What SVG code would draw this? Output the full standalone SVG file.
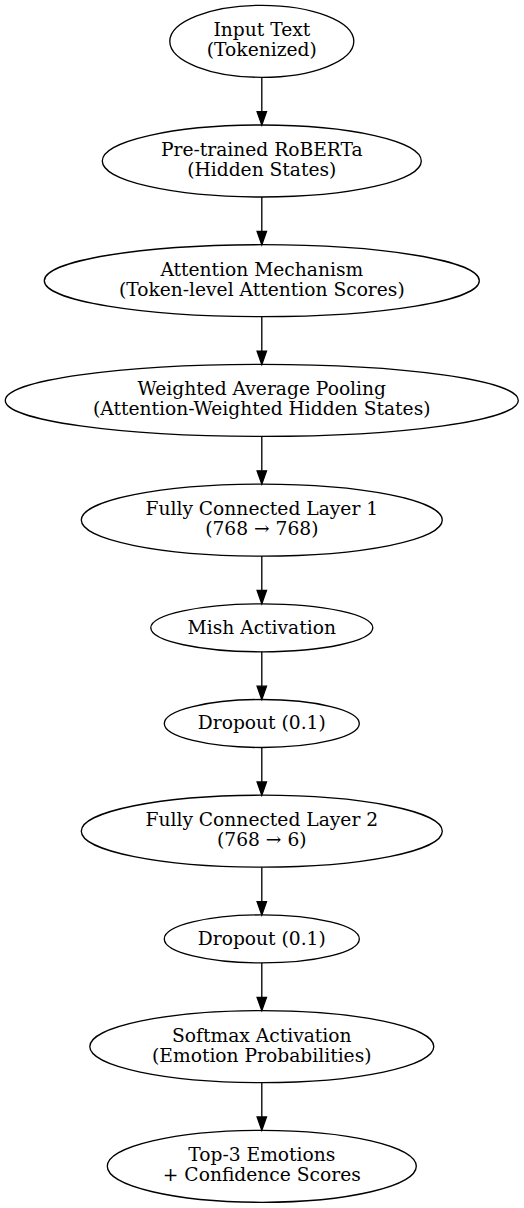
<svg xmlns="http://www.w3.org/2000/svg" width="524" height="1208" viewBox="0 0 524 1208">
<style>
.n ellipse{fill:none;stroke:#000;stroke-width:1.33}
.n text{font-family:"DejaVu Serif",serif;font-size:18.67px;text-anchor:middle;fill:#000}
.e line{stroke:#000;stroke-width:1.33}
.e polygon{fill:#000;stroke:#000;stroke-width:1.33}
</style>
<rect width="524" height="1208" fill="#fff"/>
<g id="n1" class="n"><ellipse cx="261.8" cy="41.3" rx="92" ry="36"/><text x="261.8" y="36.3">Input Text</text><text x="261.8" y="56.3">(Tokenized)</text></g>
<g id="n2" class="n"><ellipse cx="261.8" cy="161" rx="159.5" ry="36"/><text x="261.8" y="156">Pre-trained RoBERTa</text><text x="261.8" y="176">(Hidden States)</text></g>
<g id="n3" class="n"><ellipse cx="261.8" cy="280.7" rx="217.5" ry="36"/><text x="261.8" y="275.7">Attention Mechanism</text><text x="261.8" y="295.7">(Token-level Attention Scores)</text></g>
<g id="n4" class="n"><ellipse cx="261.8" cy="400.4" rx="256.5" ry="36"/><text x="261.8" y="395.4">Weighted Average Pooling</text><text x="261.8" y="415.4">(Attention-Weighted Hidden States)</text></g>
<g id="n5" class="n"><ellipse cx="261.8" cy="520.1" rx="180.5" ry="36"/><text x="261.8" y="515.1">Fully Connected Layer 1</text><text x="261.8" y="535.1">(768 → 768)</text></g>
<g id="n6" class="n"><ellipse cx="261.8" cy="627.8" rx="111" ry="24"/><text x="261.8" y="633.6">Mish Activation</text></g>
<g id="n7" class="n"><ellipse cx="261.8" cy="723.5" rx="97.5" ry="24"/><text x="261.8" y="729.3">Dropout (0.1)</text></g>
<g id="n8" class="n"><ellipse cx="261.8" cy="831.2" rx="180.5" ry="36"/><text x="261.8" y="826.2">Fully Connected Layer 2</text><text x="261.8" y="846.2">(768 → 6)</text></g>
<g id="n9" class="n"><ellipse cx="261.8" cy="938.9" rx="97.5" ry="24"/><text x="261.8" y="944.7">Dropout (0.1)</text></g>
<g id="n10" class="n"><ellipse cx="261.8" cy="1046.6" rx="172" ry="36"/><text x="261.8" y="1041.6">Softmax Activation</text><text x="261.8" y="1061.6">(Emotion Probabilities)</text></g>
<g id="n11" class="n"><ellipse cx="261.8" cy="1166.3" rx="154.5" ry="36"/><text x="261.8" y="1161.3">Top-3 Emotions</text><text x="261.8" y="1181.3">+ Confidence Scores</text></g>
<g id="edges" class="e">
<line x1="261.8" y1="77.3" x2="261.8" y2="111.7"/><polygon points="257.1,111.7 266.5,111.7 261.8,125"/>
<line x1="261.8" y1="197" x2="261.8" y2="231.4"/><polygon points="257.1,231.4 266.5,231.4 261.8,244.7"/>
<line x1="261.8" y1="316.7" x2="261.8" y2="351.1"/><polygon points="257.1,351.1 266.5,351.1 261.8,364.4"/>
<line x1="261.8" y1="436.4" x2="261.8" y2="470.8"/><polygon points="257.1,470.8 266.5,470.8 261.8,484.1"/>
<line x1="261.8" y1="556.1" x2="261.8" y2="590.5"/><polygon points="257.1,590.5 266.5,590.5 261.8,603.8"/>
<line x1="261.8" y1="651.8" x2="261.8" y2="686.2"/><polygon points="257.1,686.2 266.5,686.2 261.8,699.5"/>
<line x1="261.8" y1="747.5" x2="261.8" y2="781.9"/><polygon points="257.1,781.9 266.5,781.9 261.8,795.2"/>
<line x1="261.8" y1="867.2" x2="261.8" y2="901.6"/><polygon points="257.1,901.6 266.5,901.6 261.8,914.9"/>
<line x1="261.8" y1="962.9" x2="261.8" y2="997.3"/><polygon points="257.1,997.3 266.5,997.3 261.8,1010.6"/>
<line x1="261.8" y1="1082.6" x2="261.8" y2="1117"/><polygon points="257.1,1117 266.5,1117 261.8,1130.3"/>
</g>
</svg>
